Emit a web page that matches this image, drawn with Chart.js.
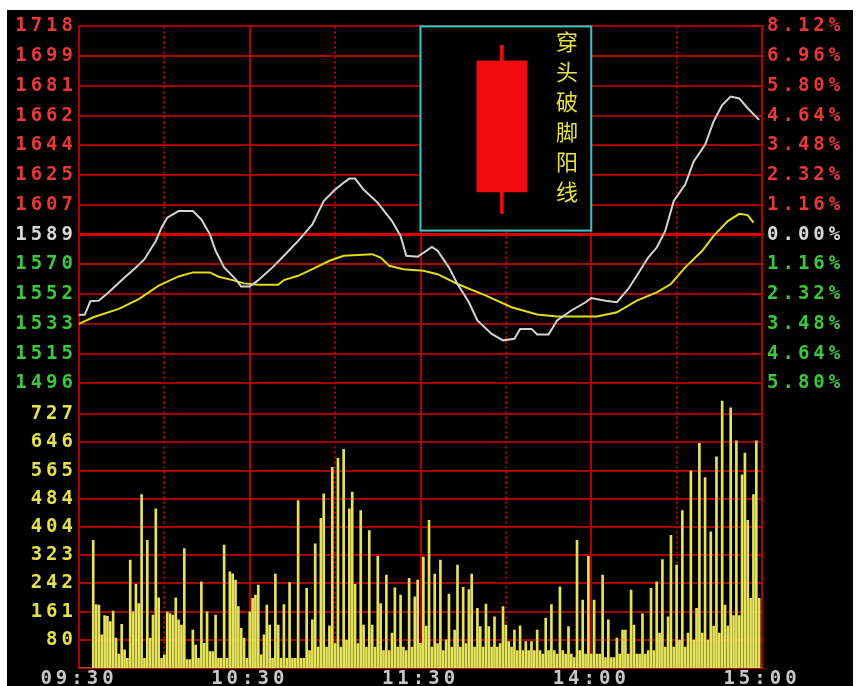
<!DOCTYPE html>
<html>
<head>
<meta charset="utf-8">
<script src="https://cdn.jsdelivr.net/npm/chart.js@4/dist/chart.umd.min.js"></script>
<style>
  html, body { margin: 0; padding: 0; background: #ffffff; }
  #chart { position: absolute; left: 7px; top: 10px; background: #000000; }
</style>
</head>
<body>
<canvas id="chart" width="846" height="676"></canvas>
<script>
// axis labels
var timeLabels = ['09:30', '10:30', '11:30', '14:00', '15:00'];
var priceLabels = ['1718', '1699', '1681', '1662', '1644', '1625', '1607', '1589', '1570', '1552', '1533', '1515', '1496'];
var pctLabels = ['8.12%', '6.96%', '5.80%', '4.64%', '3.48%', '2.32%', '1.16%', '0.00%', '1.16%', '2.32%', '3.48%', '4.64%', '5.80%'];
var volLabels = ['727', '646', '565', '484', '404', '323', '242', '161', '80'];
var basePrice = 1589;
var priceStep = 18.43;
var volStep = 80.8;

// price line (white), minutes from 09:30
var priceTimes = [0, 2, 4, 7, 11, 16, 20, 23, 27, 29, 31, 35, 40, 43, 46, 48, 51, 55, 57, 60,
    63, 68, 72, 77, 82, 86, 90, 93, 95, 97, 100, 105, 110, 113, 115, 119, 124, 126, 130, 133,
    137, 140, 145, 149, 153, 155, 159, 161, 165, 168, 173, 178, 180, 185, 189, 193, 196, 200, 203, 206,
    209, 213, 216, 220, 223, 226, 229, 232, 235, 239];
var prices = [1539.3, 1539.3, 1547.7, 1548.1, 1554.3, 1562.5, 1568.7, 1573.8, 1585.1, 1593.3, 1599.5, 1603.6, 1603.6, 1598.4, 1589.2, 1579.0, 1568.7, 1561.4, 1556.9, 1556.9,
    1560.8, 1568.7, 1575.9, 1585.1, 1595.3, 1609.8, 1616.9, 1621.1, 1623.7, 1623.7, 1616.9, 1608.7, 1597.4, 1588.2, 1575.9, 1575.3, 1581.4, 1579.0, 1568.7, 1558.4,
    1547.1, 1535.8, 1527.5, 1523.5, 1524.5, 1530.6, 1530.6, 1527.2, 1527.2, 1535.8, 1542.0, 1547.1, 1549.7, 1548.1, 1547.1, 1555.3, 1563.5, 1574.8, 1581.0, 1591.3,
    1609.8, 1620.0, 1634.4, 1644.7, 1659.1, 1669.3, 1674.5, 1673.4, 1667.3, 1660.1];

// average price line (yellow)
var avgTimes = [0, 5, 14, 21, 28, 35, 40, 46, 49, 54, 58, 63, 70, 72, 77, 82, 88, 93, 103, 106,
    109, 114, 121, 126, 133, 143, 152, 161, 168, 182, 189, 196, 203, 208, 213, 219, 223, 228, 232, 235, 237];
var avgPrices = [1533.7, 1537.8, 1543.0, 1549.1, 1557.4, 1563.1, 1565.6, 1565.6, 1562.9, 1560.8, 1558.8, 1558.0, 1558.0, 1560.8, 1563.5, 1567.6, 1572.8, 1575.9, 1576.9, 1574.8,
    1569.7, 1567.6, 1566.6, 1564.5, 1558.4, 1551.2, 1544.0, 1539.5, 1538.3, 1538.3, 1540.9, 1548.1, 1553.2, 1558.4, 1568.7, 1579.0, 1588.2, 1597.4, 1601.9, 1601.1, 1596.4];

// volume per minute (index = minute)
var volumes = [
    0, 0, 0, 0, 0, 366, 182, 180, 95, 150,
    148, 133, 163, 86, 40, 125, 52, 28, 309, 161,
    240, 185, 497, 28, 366, 86, 152, 456, 201, 28,
    38, 161, 156, 152, 201, 138, 123, 342, 24, 24,
    109, 66, 28, 247, 71, 161, 47, 47, 152, 28,
    28, 352, 28, 276, 270, 252, 176, 114, 86, 28,
    161, 200, 209, 238, 38, 95, 180, 123, 28, 269,
    123, 28, 182, 28, 245, 28, 28, 480, 28, 28,
    228, 50, 138, 356, 60, 429, 499, 60, 121, 575,
    70, 601, 60, 627, 80, 456, 504, 240, 70, 451,
    123, 60, 394, 123, 60, 320, 185, 50, 266, 50,
    100, 230, 60, 209, 60, 50, 257, 60, 204, 252,
    71, 318, 120, 423, 60, 269, 70, 309, 50, 81,
    212, 60, 109, 295, 60, 231, 70, 225, 269, 60,
    171, 119, 60, 183, 119, 60, 147, 60, 70, 176,
    123, 76, 60, 109, 50, 121, 50, 76, 50, 76,
    50, 109, 50, 40, 143, 50, 182, 50, 40, 233,
    50, 40, 119, 40, 30, 366, 50, 195, 40, 320,
    40, 195, 40, 40, 266, 30, 138, 30, 30, 86,
    40, 109, 109, 40, 223, 123, 40, 40, 155, 40,
    50, 228, 50, 247, 100, 311, 60, 147, 380, 60,
    295, 80, 451, 60, 100, 565, 80, 171, 644, 100,
    546, 80, 390, 120, 605, 100, 765, 180, 120, 746,
    150, 651, 150, 554, 616, 423, 200, 497, 651, 200,
    0
];

// inset: candle illustration
var insetX = [120, 180];
var insetY = [1591.5, 1718];
var candleX = 148.6;
var candleBody = [1615.5, 1696.7];
var candleWick = [1602.1, 1706.3];
var insetText = '穿头破脚阳线';
var insetTextX = 171.5;
var insetTextTop = 1708.4;
var insetTextStep = 18.6;

// the price panel sits above the volume panel on one plot area
var priceAxisMax = basePrice + 7 * priceStep;
var priceAxisMin = 1320.5;
var volAxisMax = 1839;

var priceTicks = priceLabels.map(function (l, i) { return basePrice + (7 - i) * priceStep; });
var volTicks = volLabels.map(function (l, i) { return (9 - i) * volStep; });
var timeTicks = [0, 30, 60, 90, 120, 150, 180, 210, 240];

// left axis carries both price and volume labels
var leftTicks = priceTicks.concat(volTicks.map(function (v) {
    return priceAxisMin + v * (priceAxisMax - priceAxisMin) / volAxisMax;
}));
var leftLabels = priceLabels.concat(volLabels);

function priceColor(i) {
    if (i < 7) return '#e83838';
    if (i === 7) return '#d8d8d8';
    if (i < 13) return '#3cc83c';
    return '#e4e050';
}

var axisFont = { family: "'DejaVu Sans Mono', monospace", size: 19, weight: 'bold' };
var gridRed = '#a80000';

var insetPlugin = {
    id: 'inset',
    beforeDraw: function (chart) {
        chart.ctx.letterSpacing = '4px';
    },
    beforeDatasetsDraw: function (chart) {
        var ctx = chart.ctx;
        var x = chart.scales.x, y = chart.scales.yP;
        var x0 = x.getPixelForValue(insetX[0]), x1 = x.getPixelForValue(insetX[1]);
        var y0 = y.getPixelForValue(insetY[1]), y1 = y.getPixelForValue(insetY[0]);
        ctx.save();
        ctx.fillStyle = '#000000';
        ctx.fillRect(x0, y0, x1 - x0, y1 - y0);
        ctx.strokeStyle = '#3cc4cc';
        ctx.lineWidth = 2;
        ctx.strokeRect(x0, y0, x1 - x0, y1 - y0);
        ctx.restore();
    },
    afterDatasetsDraw: function (chart) {
        var ctx = chart.ctx;
        var x = chart.scales.x, y = chart.scales.yP;
        ctx.save();
        ctx.letterSpacing = '0px';
        ctx.fillStyle = '#e8e048';
        ctx.font = "22px 'Noto Sans CJK SC'";
        ctx.textAlign = 'center';
        ctx.textBaseline = 'middle';
        var tx = x.getPixelForValue(insetTextX);
        for (var i = 0; i < insetText.length; i++) {
            ctx.fillText(insetText[i], tx, y.getPixelForValue(insetTextTop - i * insetTextStep));
        }
        ctx.restore();
    }
};

var ctx = document.getElementById('chart');
var myChart = new Chart(ctx, {
    type: 'bar',
    data: {
        datasets: [{
            type: 'line',
            label: 'price',
            data: priceTimes.map(function (t, i) { return { x: t, y: prices[i] }; }),
            borderColor: '#d4d4d4',
            borderWidth: 2,
            pointRadius: 0,
            tension: 0,
            xAxisID: 'x',
            yAxisID: 'yP'
        }, {
            type: 'line',
            label: 'average',
            data: avgTimes.map(function (t, i) { return { x: t, y: avgPrices[i] }; }),
            borderColor: '#e4dc1c',
            borderWidth: 2,
            pointRadius: 0,
            tension: 0,
            xAxisID: 'x',
            yAxisID: 'yP'
        }, {
            type: 'bar',
            label: 'volume',
            data: volumes.map(function (v, i) { return { x: i, y: v }; }),
            backgroundColor: '#e6e25a',
            barThickness: 2,
            grouped: false,
            xAxisID: 'x',
            yAxisID: 'yV'
        }, {
            type: 'bar',
            label: 'wick',
            data: [{ x: candleX, y: candleWick }],
            backgroundColor: '#f00c0c',
            barThickness: 3,
            grouped: false,
            xAxisID: 'x',
            yAxisID: 'yP'
        }, {
            type: 'bar',
            label: 'body',
            data: [{ x: candleX, y: candleBody }],
            backgroundColor: '#f00c0c',
            barThickness: 50,
            grouped: false,
            xAxisID: 'x',
            yAxisID: 'yP'
        }]
    },
    options: {
        responsive: false,
        animation: false,
        layout: { padding: { top: 13, left: 0, right: 0, bottom: 0 } },
        plugins: {
            legend: { display: false },
            tooltip: { enabled: false }
        },
        scales: {
            x: {
                type: 'linear',
                position: 'bottom',
                offset: false,
                min: 0,
                max: 240,
                afterBuildTicks: function (s) { s.ticks = timeTicks.map(function (v) { return { value: v }; }); },
                afterFit: function (s) { s.height = 18; },
                ticks: {
                    autoSkip: false,
                    maxRotation: 0,
                    padding: 0,
                    color: '#c8c8c8',
                    font: axisFont,
                    callback: function (v) { return v % 60 === 0 ? timeLabels[v / 60] : ''; }
                },
                grid: {
                    offset: false,
                    drawTicks: false,
                    color: function (c) { return c.index % 2 ? '#c00000' : '#b00000'; },
                    lineWidth: 2
                },
                border: {
                    color: '#b00000',
                    width: 2,
                    dash: function (c) { return (c.index !== undefined && c.index % 2 === 1) ? [2, 3] : []; }
                }
            },
            yP: {
                type: 'linear',
                position: 'left',
                min: priceAxisMin,
                max: priceAxisMax,
                afterBuildTicks: function (s) { s.ticks = leftTicks.map(function (v) { return { value: v }; }); },
                afterFit: function (s) { s.width = 72; },
                ticks: {
                    autoSkip: false,
                    padding: 2,
                    font: axisFont,
                    color: function (c) { return priceColor(c.index); },
                    callback: function (v, i) { return leftLabels[i]; }
                },
                grid: {
                    drawTicks: false,
                    color: function (c) { return c.index === 7 ? '#e00000' : gridRed; },
                    lineWidth: function (c) { return c.index === 7 ? 3 : 2; }
                },
                border: { color: '#b00000', width: 2 }
            },
            yV: {
                type: 'linear',
                display: false,
                min: 0,
                max: volAxisMax
            },
            yR: {
                type: 'linear',
                position: 'right',
                min: priceAxisMin,
                max: priceAxisMax,
                afterBuildTicks: function (s) { s.ticks = priceTicks.map(function (v) { return { value: v }; }); },
                afterFit: function (s) { s.width = 91; },
                ticks: {
                    autoSkip: false,
                    padding: 5,
                    font: axisFont,
                    color: function (c) { return priceColor(c.index); },
                    callback: function (v, i) { return pctLabels[i]; }
                },
                grid: { drawTicks: false, drawOnChartArea: false },
                border: { color: '#b00000', width: 2 }
            }
        }
    },
    plugins: [insetPlugin]
});
</script>
</body>
</html>
